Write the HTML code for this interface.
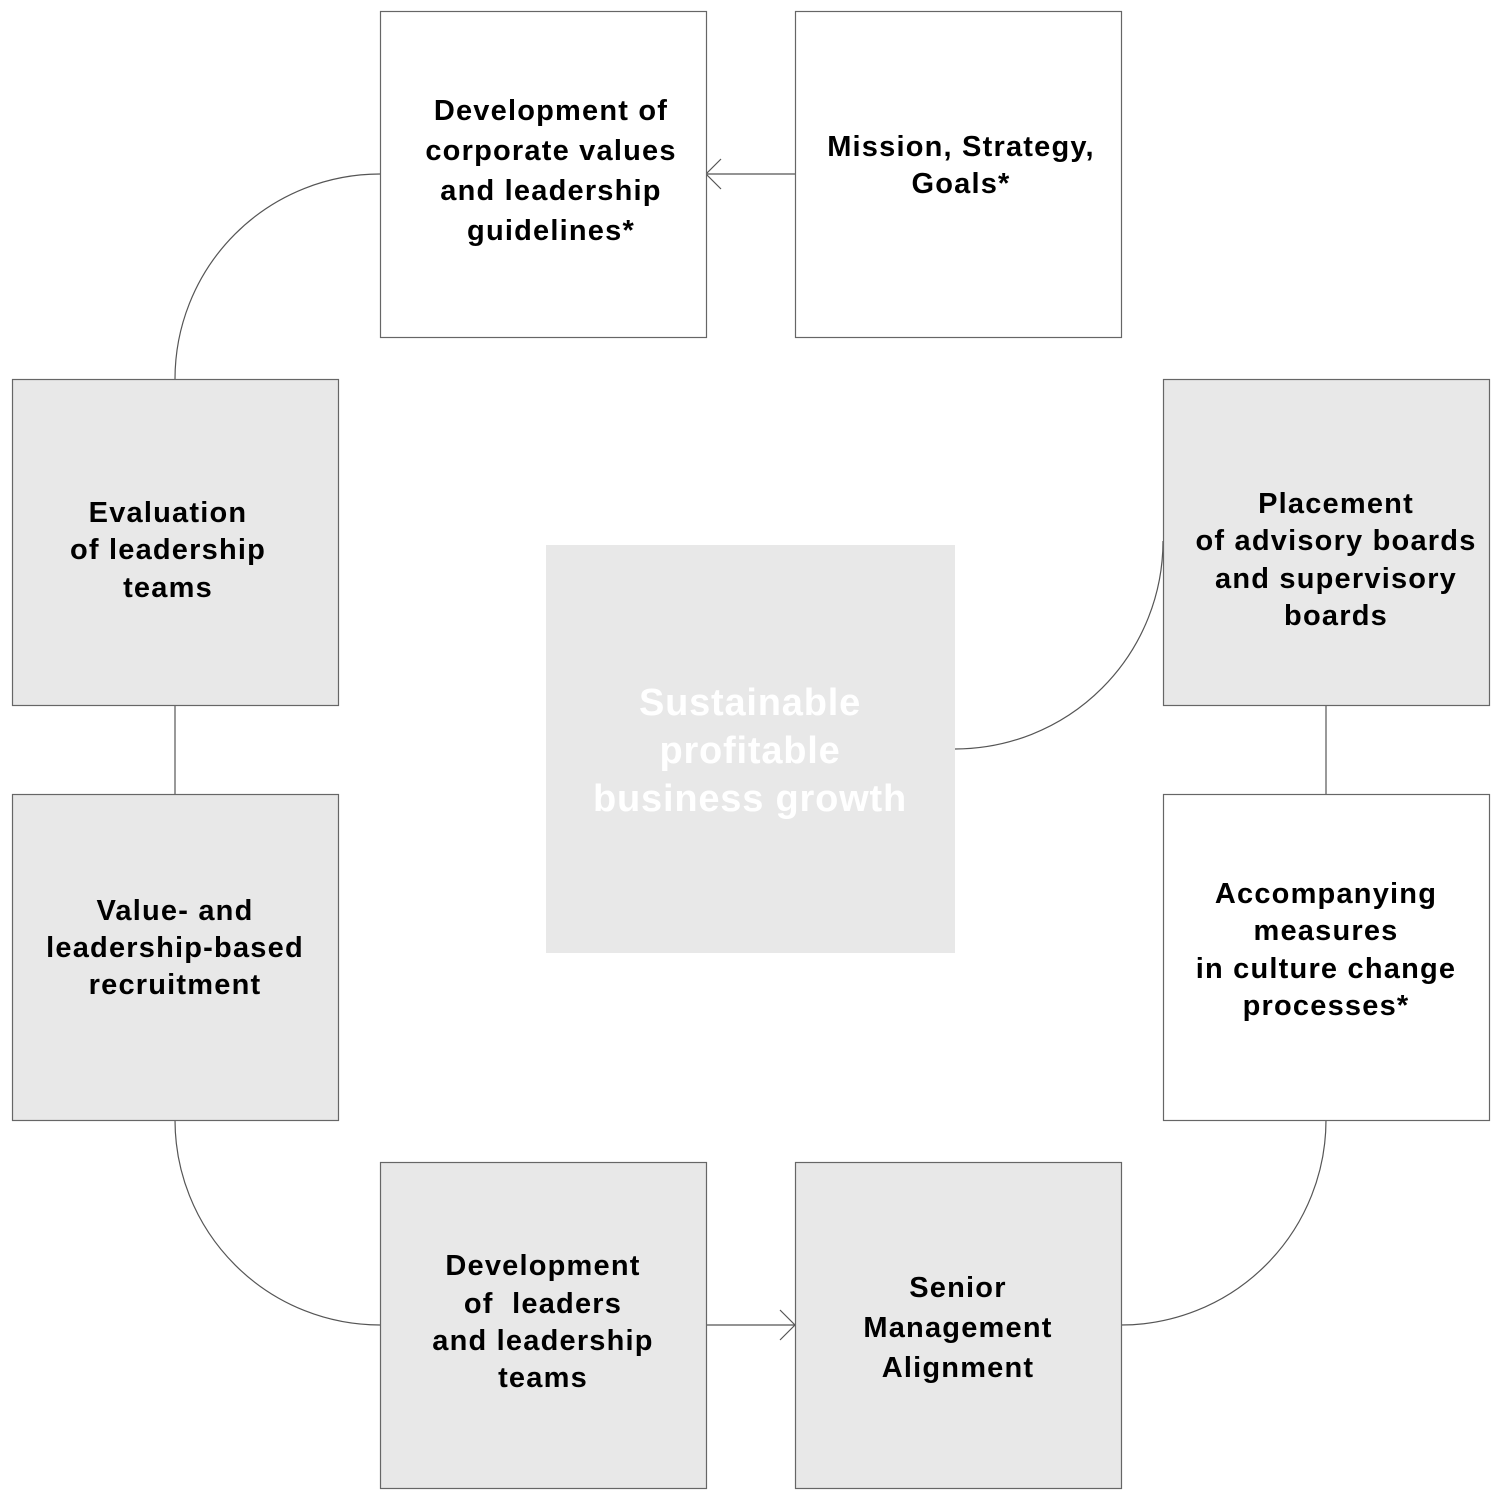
<!DOCTYPE html>
<html><head><meta charset="utf-8"><style>
html,body{margin:0;padding:0;background:#fff;}
svg{display:block;}
text{font-family:"Liberation Sans",Arial,sans-serif;font-weight:bold;font-size:29px;letter-spacing:1.2px;fill:#000;text-anchor:middle;}
.c{fill:#fff;font-size:38px;letter-spacing:0.8px;}
</style></head><body>
<svg width="1500" height="1500" viewBox="0 0 1500 1500">
<g stroke="#555" stroke-width="1.2" fill="none">
<path d="M380,174 A205,205 0 0 0 175,379"/>
<path d="M175,705 L175,794"/>
<path d="M175,1120 A205,205 0 0 0 380,1325"/>
<path d="M706,1325 L795,1325"/>
<path d="M780,1310 L795,1325 L780,1340"/>
<path d="M1121,1325 A205,205 0 0 0 1326,1120"/>
<path d="M1326,705 L1326,794"/>
<path d="M955,749 A208,208 0 0 0 1163,541"/>
<path d="M795,174 L706,174"/>
<path d="M721,159 L706,174 L721,189"/>
</g>
<g stroke="#666" stroke-width="1.2">
<rect x="380.5" y="11.5" width="326" height="326" fill="#fff"/>
<rect x="795.5" y="11.5" width="326" height="326" fill="#fff"/>
<rect x="12.5" y="379.5" width="326" height="326" fill="#e8e8e8"/>
<rect x="1163.5" y="379.5" width="326" height="326" fill="#e8e8e8"/>
<rect x="12.5" y="794.5" width="326" height="326" fill="#e8e8e8"/>
<rect x="1163.5" y="794.5" width="326" height="326" fill="#fff"/>
<rect x="380.5" y="1162.5" width="326" height="326" fill="#e8e8e8"/>
<rect x="795.5" y="1162.5" width="326" height="326" fill="#e8e8e8"/>
</g>
<rect x="546" y="545" width="409" height="408" fill="#e8e8e8"/>
<text x="551" y="120">Development of</text>
<text x="551" y="160">corporate values</text>
<text x="551" y="200">and leadership</text>
<text x="551" y="240">guidelines*</text>
<text x="961" y="156">Mission, Strategy,</text>
<text x="961" y="193">Goals*</text>
<text x="168" y="522">Evaluation</text>
<text x="168" y="559">of leadership</text>
<text x="168" y="597">teams</text>
<text x="1336" y="513">Placement</text>
<text x="1336" y="550">of advisory boards</text>
<text x="1336" y="588">and supervisory</text>
<text x="1336" y="625">boards</text>
<text x="175" y="920">Value- and</text>
<text x="175" y="957">leadership-based</text>
<text x="175" y="994">recruitment</text>
<text x="1326" y="903">Accompanying</text>
<text x="1326" y="940">measures</text>
<text x="1326" y="978">in culture change</text>
<text x="1326" y="1015">processes*</text>
<text x="543" y="1275">Development</text>
<text x="543" y="1313">of&#160; leaders</text>
<text x="543" y="1350">and leadership</text>
<text x="543" y="1387">teams</text>
<text x="958" y="1297">Senior</text>
<text x="958" y="1337">Management</text>
<text x="958" y="1377">Alignment</text>
<text class="c" x="750" y="715">Sustainable</text>
<text class="c" x="750" y="763">profitable</text>
<text class="c" x="750" y="811">business growth</text>
</svg>
</body></html>
